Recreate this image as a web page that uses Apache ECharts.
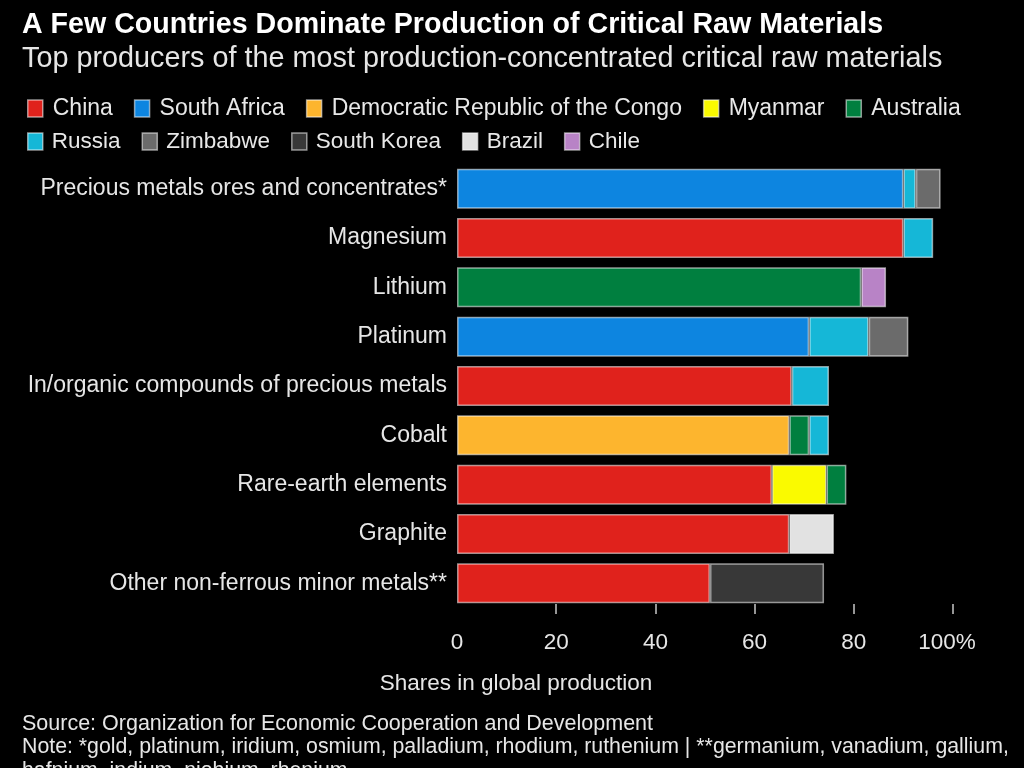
<!DOCTYPE html>
<html>
<head>
<meta charset="utf-8">
<title>Critical Raw Materials</title>
<script src="https://cdn.jsdelivr.net/npm/echarts@6/dist/echarts.min.js"></script>
<style>
  html, body { margin: 0; padding: 0; background: #000; }
  #chart { width: 1024px; height: 768px; }
</style>
</head>
<body>
<div id="chart"></div>
<script>
// categories, top to bottom
var materials = [
  'Precious metals ores and concentrates*',
  'Magnesium',
  'Lithium',
  'Platinum',
  'In/organic compounds of precious metals',
  'Cobalt',
  'Rare-earth elements',
  'Graphite',
  'Other non-ferrous minor metals**'
];

// shares in global production (%), '-' = not among top producers
var china        = ['-', 90, '-', '-', 67.5, '-', 63.5, 67, 51];
var southAfrica  = [90, '-', '-', 71, '-', '-', '-', '-', '-'];
var drc          = ['-', '-', '-', '-', '-', 67, '-', '-', '-'];
var myanmar      = ['-', '-', '-', '-', '-', '-', 11, '-', '-'];
var australia    = ['-', '-', 81.5, '-', '-', 4, 4, '-', '-'];
var russia       = [2.5, 6, '-', 12, 7.5, 4, '-', '-', '-'];
var zimbabwe     = [5, '-', '-', 8, '-', '-', '-', '-', '-'];
var southKorea   = ['-', '-', '-', '-', '-', '-', '-', '-', 23];
var brazil       = ['-', '-', '-', '-', '-', '-', '-', 9, '-'];
var chile        = ['-', '-', 5, '-', '-', '-', '-', '-', '-'];

// ticks drawn below the bars (no tick at 0 in the original)
var tickMarks = [20, 40, 60, 80, 100];

var countries = [
  { name: 'China', data: china, color: '#e0221c' },
  { name: 'South Africa', data: southAfrica, color: '#0d85e0' },
  { name: 'Democratic Republic of the Congo', data: drc, color: '#fdb52e' },
  { name: 'Myanmar', data: myanmar, color: '#fafa00' },
  { name: 'Australia', data: australia, color: '#007f3f' },
  { name: 'Russia', data: russia, color: '#15b7d7' },
  { name: 'Zimbabwe', data: zimbabwe, color: '#6b6b6b' },
  { name: 'South Korea', data: southKorea, color: '#383838' },
  { name: 'Brazil', data: brazil, color: '#e2e2e2' },
  { name: 'Chile', data: chile, color: '#b883c6' }
];

var fontFamily = 'Liberation Sans, Arial, sans-serif';

var chart = echarts.init(document.getElementById('chart'));

var legendText = { color: '#e8e8e8', fontSize: 23, fontFamily: fontFamily, padding: [0, 0, 0, 5] };
var outline = { borderColor: 'rgba(255,255,255,0.55)', borderWidth: 1.5 };

var option = {
  backgroundColor: '#000',
  animation: false,
  title: [
    {
      text: 'A Few Countries Dominate Production of Critical Raw Materials',
      left: 17, top: 6,
      textStyle: { color: '#fff', fontSize: 28.6, fontWeight: 'bold', fontFamily: fontFamily }
    },
    {
      text: 'Top producers of the most production-concentrated critical raw materials',
      left: 17, top: 40,
      textStyle: { color: '#e6e6e6', fontSize: 28.8, fontWeight: 'normal', fontFamily: fontFamily }
    },
    {
      text: 'Shares in global production',
      left: 511, top: 667, textAlign: 'center',
      textStyle: { color: '#e6e6e6', fontSize: 22.5, fontWeight: 'normal', fontFamily: fontFamily }
    },
    {
      text: 'Source: Organization for Economic Cooperation and Development',
      left: 17, top: 708,
      textStyle: { color: '#e6e6e6', fontSize: 21.5, fontWeight: 'normal', fontFamily: fontFamily }
    },
    {
      text: 'Note: *gold, platinum, iridium, osmium, palladium, rhodium, ruthenium | **germanium, vanadium, gallium,',
      left: 17, top: 732,
      textStyle: { color: '#e6e6e6', fontSize: 21.3, fontWeight: 'normal', fontFamily: fontFamily }
    },
    {
      text: 'hafnium, indium, niobium, rhenium',
      left: 17, top: 756,
      textStyle: { color: '#e6e6e6', fontSize: 21.3, fontWeight: 'normal', fontFamily: fontFamily }
    }
  ],
  legend: [
    {
      data: countries.slice(0, 5).map(function (c) { return c.name; }),
      left: 22, top: 92,
      itemWidth: 15, itemHeight: 17, itemGap: 21,
      icon: 'rect',
      itemStyle: outline,
      textStyle: legendText,
      selectedMode: false
    },
    {
      data: countries.slice(5).map(function (c) { return c.name; }),
      left: 22, top: 125,
      itemWidth: 15, itemHeight: 17, itemGap: 21,
      icon: 'rect',
      itemStyle: outline,
      textStyle: { color: '#e8e8e8', fontSize: 22.5, fontFamily: fontFamily, padding: [0, 0, 0, 4] },
      selectedMode: false
    }
  ],
  grid: { left: 457, right: 71, top: 164, bottom: 160 },
  xAxis: {
    type: 'value',
    min: 0, max: 100, interval: 20,
    offset: -4,
    splitLine: { show: false },
    axisLine: { show: false },
    axisTick: {
      show: true, length: 10, customValues: tickMarks,
      lineStyle: { color: '#c8c8c8', width: 1.5 }
    },
    axisLabel: {
      margin: 27,
      color: '#e6e6e6', fontSize: 22.5, fontFamily: fontFamily,
      formatter: function (v) { return v === 100 ? '{last|100%}' : String(v); },
      rich: {
        last: { color: '#e6e6e6', fontSize: 22.5, fontFamily: fontFamily, padding: [0, 12, 0, 0] }
      }
    }
  },
  yAxis: {
    type: 'category',
    data: materials,
    inverse: true,
    axisLine: { show: false },
    axisTick: { show: false },
    axisLabel: { margin: 10, color: '#e6e6e6', fontSize: 23, fontFamily: fontFamily }
  },
  series: countries.map(function (c) {
    return {
      name: c.name,
      type: 'bar',
      stack: 'share',
      barWidth: 40,
      data: c.data,
      itemStyle: { color: c.color, borderColor: outline.borderColor, borderWidth: outline.borderWidth }
    };
  })
};

chart.setOption(option);
</script>
</body>
</html>
